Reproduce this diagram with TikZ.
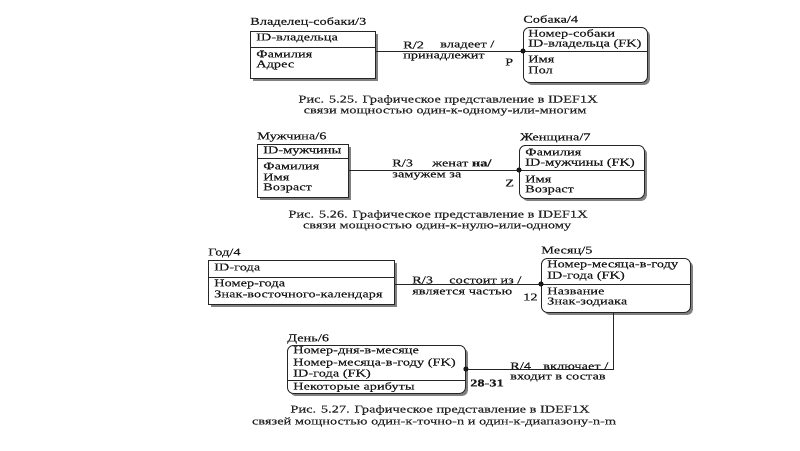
\documentclass[tikz,border=0pt]{standalone}
\usepackage{fontspec}
\setmainfont{Liberation Serif}[FakeStretch=1.37, FakeBold=0.25]
\usetikzlibrary{shadows}
\begin{document}
\begin{tikzpicture}[x=1pt,y=-1pt,
  ink/.style={draw=black!85, line width=0.8pt},
  ent/.style={draw=black!85, line width=0.9pt, fill=white, anchor=north west, inner sep=0pt,
    drop shadow={shadow xshift=2.5pt, shadow yshift=-2.5pt, fill=black!50, opacity=1}},
  dep/.style={ent, rounded corners=6pt},
  t/.style={anchor=west, inner sep=0pt, font=\fontsize{10.5}{12}\selectfont, text=black!90},
  captxt/.style={anchor=center, inner sep=0pt, font=\fontsize{10.5}{12}\selectfont, text=black!85},
  dot/.style={fill=black!90}
]
\useasboundingbox[fill=white] (0,0) rectangle (800,450);

% ---------- Fig 5.25 ----------
\node[t] (ownerlbl) at (250,22) {Владелец-собаки/3};
\node[ent, minimum width=125pt, minimum height=47pt] (owner) at (250,31) {};
\draw[ink] (owner.west |- 0,47) -- (owner.east |- 0,47);
\node[t] (o1) at (256,38) {ID-владельца};
\node[t] (o2) at (256,54) {Фамилия};
\node[t] (o3) at (256,65) {Адрес};

\node[t] (doglbl) at (523,19) {Собака/4};
\node[dep, minimum width=124pt, minimum height=55pt] (dog) at (523,27) {};
\draw[ink] (dog.west |- 0,51) -- (dog.east |- 0,51);
\node[t] (g1) at (528,34) {Номер-собаки};
\node[t] (g2) at (528,44) {ID-владельца (FK)};
\node[t] (g3) at (528,59) {Имя};
\node[t] (g4) at (528,70) {Пол};

\coordinate (d1) at (dog.west |- 0,51);
\draw[ink] (owner.east |- d1) -- (d1);
\fill[dot] (d1) circle (2.6);
\node[t] (r2) at (403,45) {R/2};
\node[t] (r2a) at (440,45) {владеет /};
\node[t] (r2b) at (403,57) {принадлежит};
\node[t] (r2c) at (505,62) {P};

\node[captxt] (c1a) at (448,100) {Рис. 5.25. Графическое представление в IDEF1X};
\node[captxt] (c1b) at (445,112) {связи мощностью один-к-одному-или-многим};

% ---------- Fig 5.26 ----------
\node[t] (manlbl) at (257,137) {Мужчина/6};
\node[ent, minimum width=91pt, minimum height=53pt] (man) at (257,144) {};
\draw[ink] (man.west |- 0,158) -- (man.east |- 0,158);
\node[t] (m1) at (263,151) {ID-мужчины};
\node[t] (m2) at (263,166) {Фамилия};
\node[t] (m3) at (263,177) {Имя};
\node[t] (m4) at (263,188) {Возраст};

\node[t] (womlbl) at (520,138) {Женщина/7};
\node[dep, minimum width=125pt, minimum height=53pt] (wom) at (519,145) {};
\draw[ink] (wom.west |- 0,170) -- (wom.east |- 0,170);
\node[t] (w1) at (525,152) {Фамилия};
\node[t] (w2) at (525,163) {ID-мужчины (FK)};
\node[t] (w3) at (525,179) {Имя};
\node[t] (w4) at (525,190) {Возраст};

\coordinate (d2) at (wom.west |- 0,170);
\draw[ink] (man.east |- d2) -- (d2);
\fill[dot] (d2) circle (2.6);
\node[t] (r3) at (392,163) {R/3};
\node[t] (r3a) at (432,163) {женат \textbf{на/}};
\node[t] (r3b) at (392,176) {замужем за};
\node[t] (r3c) at (505,183) {Z};

\node[captxt] (c2a) at (438,215) {Рис. 5.26. Графическое представление в IDEF1X};
\node[captxt] (c2b) at (437,227) {связи мощностью один-к-нулю-или-одному};

% ---------- Fig 5.27 ----------
\node[t] (yearlbl) at (208,253) {Год/4};
\node[ent, minimum width=186pt, minimum height=44pt] (year) at (208,260) {};
\draw[ink] (year.west |- 0,277) -- (year.east |- 0,277);
\node[t] (y1) at (214,268) {ID-года};
\node[t] (y2) at (214,284) {Номер-года};
\node[t] (y3) at (214,295) {Знак-восточного-календаря};

\node[t] (monlbl) at (541,251) {Месяц/5};
\node[dep, minimum width=149pt, minimum height=54pt] (mon) at (541,258) {};
\draw[ink] (mon.west |- 0,284) -- (mon.east |- 0,284);
\node[t] (n1) at (547,265) {Номер-месяца-в-году};
\node[t] (n2) at (547,276) {ID-года (FK)};
\node[t] (n3) at (547,291) {Название};
\node[t] (n4) at (547,302) {Знак-зодиака};

\coordinate (d3) at (mon.west |- 0,284);
\draw[ink] (year.east |- d3) -- (d3);
\fill[dot] (d3) circle (2.6);
\node[t] (r31) at (412,280) {R/3};
\node[t] (r31a) at (449,280) {состоит из /};
\node[t] (r31b) at (412,292) {является частью};
\node[t] (r31c) at (523,297) {12};

\node[t] (daylbl) at (287,339) {День/6};
\node[dep, minimum width=178pt, minimum height=48pt] (day) at (287,345) {};
\draw[ink] (day.west |- 0,380) -- (day.east |- 0,380);
\node[t] (e1) at (293,351) {Номер-дня-в-месяце};
\node[t] (e2) at (293,363) {Номер-месяца-в-году (FK)};
\node[t] (e3) at (293,374) {ID-года (FK)};
\node[t] (e4) at (293,387) {Некоторые арибуты};

\coordinate (d4) at (day.east |- 0,369);
\coordinate (bend) at (613,369);
\draw[ink] (mon.south -| bend) -- (bend) -- (d4);
\fill[dot] (d4) circle (2.6);
\node[t] (r4) at (510,366) {R/4};
\node[t] (r4a) at (543,366) {включает /};
\node[t] (r4b) at (510,378) {входит в состав};
\node[t, font=\fontsize{10.5}{12}\selectfont\bfseries] (r4c) at (470,383) {28-31};

\node[captxt] (c3a) at (440,410) {Рис. 5.27. Графическое представление в IDEF1X};
\node[captxt] (c3b) at (434,422) {связей мощностью один-к-точно-n и один-к-диапазону-n-m};
\end{tikzpicture}
\end{document}
